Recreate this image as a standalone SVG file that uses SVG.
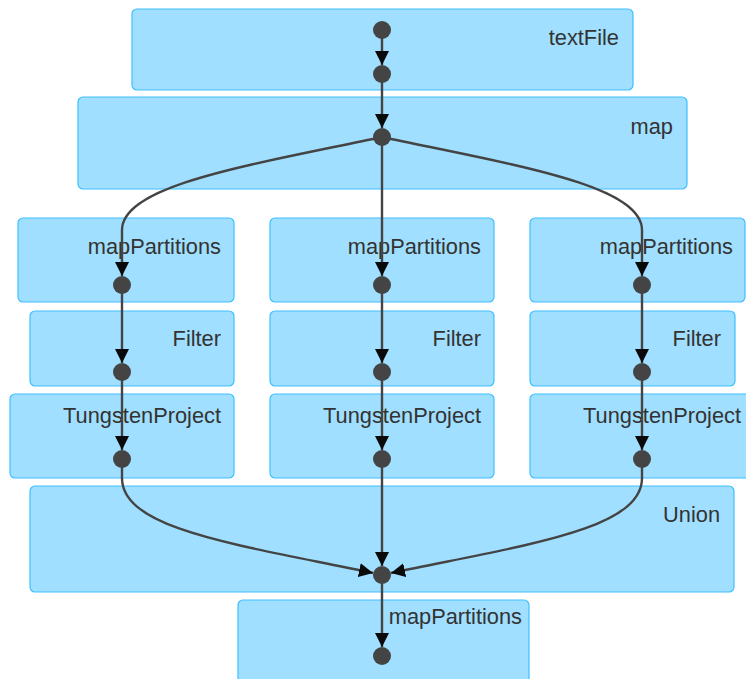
<svg xmlns="http://www.w3.org/2000/svg" width="746" height="679" viewBox="0 0 746 679">
<style>
.box{fill:#A0DFFF;stroke:#3EC0FF;stroke-width:1.2}
.lbl{font-family:"Liberation Sans",Arial,sans-serif;font-size:21.8px;fill:#333;text-anchor:end}
.dot{fill:#444}
.edge{fill:none;stroke:#444;stroke-width:2.4}
</style>
<defs>
<marker id="arr" viewBox="0 0 10 10" refX="10" refY="5" markerWidth="14" markerHeight="15" markerUnits="userSpaceOnUse" orient="auto">
<path d="M0,0 L10,5 L0,10 z" fill="#0a0a0a"/>
</marker>
</defs>
<g id="textFile"><rect class="box" x="132" y="9" width="501" height="81" rx="5"/><text class="lbl" x="619" y="45">textFile</text></g>
<g id="map"><rect class="box" x="78" y="97" width="609" height="92" rx="5"/><text class="lbl" x="673" y="134">map</text></g>
<g id="mapPartitions1"><rect class="box" x="18" y="218" width="216" height="84" rx="5"/><text class="lbl" x="221" y="254">mapPartitions</text></g>
<g id="filter1"><rect class="box" x="30" y="311" width="204" height="75" rx="5"/><text class="lbl" x="221" y="346">Filter</text></g>
<g id="tungsten1"><rect class="box" x="10" y="394" width="224" height="84" rx="5"/><text class="lbl" x="221" y="423">TungstenProject</text></g>
<g id="mapPartitions2"><rect class="box" x="270" y="218" width="224" height="84" rx="5"/><text class="lbl" x="481" y="254">mapPartitions</text></g>
<g id="filter2"><rect class="box" x="270" y="311" width="224" height="75" rx="5"/><text class="lbl" x="481" y="346">Filter</text></g>
<g id="tungsten2"><rect class="box" x="270" y="394" width="224" height="84" rx="5"/><text class="lbl" x="481" y="423">TungstenProject</text></g>
<g id="mapPartitions3"><rect class="box" x="530" y="218" width="215" height="84" rx="5"/><text class="lbl" x="733" y="254">mapPartitions</text></g>
<g id="filter3"><rect class="box" x="530" y="311" width="205" height="75" rx="5"/><text class="lbl" x="721" y="346">Filter</text></g>
<g id="tungsten3"><rect class="box" x="530" y="394" width="230" height="84" rx="5"/><text class="lbl" x="741" y="423">TungstenProject</text></g>
<g id="union"><rect class="box" x="30" y="486" width="704" height="106" rx="5"/><text class="lbl" x="720" y="522">Union</text></g>
<g id="mapPartitions4"><rect class="box" x="238" y="600" width="291" height="90" rx="5"/><text class="lbl" x="522" y="624">mapPartitions</text></g>
<g id="connectors">
<path class="edge" d="M382,30 L382,65" marker-end="url(#arr)"/>
<path class="edge" d="M382,74 L382,128" marker-end="url(#arr)"/>
<path class="edge" d="M382,137 C250,165 122,185 122,230 L122,276" marker-end="url(#arr)"/>
<path class="edge" d="M382,137 L382,276" marker-end="url(#arr)"/>
<path class="edge" d="M382,137 C514,165 642,185 642,230 L642,276" marker-end="url(#arr)"/>
<path class="edge" d="M122,285 L122,363" marker-end="url(#arr)"/>
<path class="edge" d="M382,285 L382,363" marker-end="url(#arr)"/>
<path class="edge" d="M642,285 L642,363" marker-end="url(#arr)"/>
<path class="edge" d="M122,372 L122,450" marker-end="url(#arr)"/>
<path class="edge" d="M382,372 L382,450" marker-end="url(#arr)"/>
<path class="edge" d="M642,372 L642,450" marker-end="url(#arr)"/>
<path class="edge" d="M122,459 L122,478 C122,530 240,545 373,573" marker-end="url(#arr)"/>
<path class="edge" d="M382,459 L382,566" marker-end="url(#arr)"/>
<path class="edge" d="M642,459 L642,478 C642,530 524,545 391,573" marker-end="url(#arr)"/>
<path class="edge" d="M382,575 L382,647" marker-end="url(#arr)"/>
</g>
<g id="dots">
<circle class="dot" cx="382" cy="30" r="9"/>
<circle class="dot" cx="382" cy="74" r="9"/>
<circle class="dot" cx="382" cy="137" r="9"/>
<circle class="dot" cx="122" cy="285" r="9"/>
<circle class="dot" cx="382" cy="285" r="9"/>
<circle class="dot" cx="642" cy="285" r="9"/>
<circle class="dot" cx="122" cy="372" r="9"/>
<circle class="dot" cx="382" cy="372" r="9"/>
<circle class="dot" cx="642" cy="372" r="9"/>
<circle class="dot" cx="122" cy="459" r="9"/>
<circle class="dot" cx="382" cy="459" r="9"/>
<circle class="dot" cx="642" cy="459" r="9"/>
<circle class="dot" cx="382" cy="575" r="9"/>
<circle class="dot" cx="382" cy="656" r="9"/>
</g>
</svg>
